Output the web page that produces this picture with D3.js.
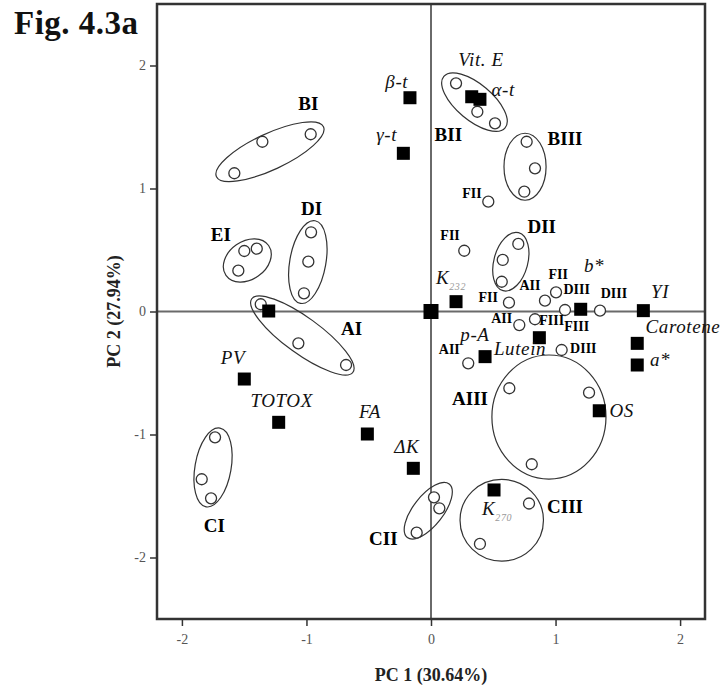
<!DOCTYPE html>
<html>
<head>
<meta charset="utf-8">
<script src="https://cdn.jsdelivr.net/npm/d3@7"></script>
<style>
  html, body { margin: 0; padding: 0; background: #fff; }
  svg { display: block; font-family: "Liberation Serif", "Times New Roman", serif; }
</style>
</head>
<body>
<svg id="chart" width="723" height="693"></svg>
<script>
// ---------- DATA ----------
const xTicks = [-2, -1, 0, 1, 2];
const yTicks = [-2, -1, 0, 1, 2];

// sample scores (open circles)
const sampleGroup = ["BI","BI","BI","EI","EI","EI","DI","DI","DI","AI","AI","AI","CI","CI","CI",
  "CII","CII","CII","BII","BII","BII","BIII","BIII","BIII","DII","DII","DII","AIII","AIII","AIII","CIII","CIII",
  "FII","FII","FII","AII","FII","DIII","DIII","AII","FIII","DIII","AII"];
const sampleX = [-1.579,-1.354,-0.966,-1.499,-1.399,-1.547,-0.963,-0.985,-1.020,-1.367,-1.065,-0.682,-1.734,-1.841,-1.766,
  0.024,0.067,-0.115,0.201,0.372,0.514,0.768,0.835,0.749,0.701,0.576,0.568,0.629,1.269,0.809,0.787,0.393,
  0.460,0.267,0.626,0.915,1.004,1.076,1.357,0.835,0.709,1.049,0.299];
const sampleY = [1.124,1.380,1.441,0.492,0.511,0.332,0.644,0.405,0.148,0.059,-0.259,-0.435,-1.023,-1.364,-1.519,
  -1.511,-1.600,-1.798,1.855,1.624,1.530,1.380,1.164,0.974,0.549,0.419,0.242,-0.624,-0.660,-1.242,-1.561,-1.890,
  0.893,0.494,0.072,0.088,0.156,0.012,0.007,-0.063,-0.110,-0.313,-0.421];

// variable loadings (filled squares)
const varNames = ["β-t","γ-t","Vit. E","α-t","K232","","","PV","TOTOX","FA","ΔK","K270","OS","Lutein","p-A","b*","YI","Carotene","a*"];
const varX = [-0.169,-0.222,0.327,0.393,0.201,0,-1.303,-1.499,-1.223,-0.511,-0.142,0.506,1.351,0.434,0.870,1.202,1.705,1.656,1.656];
const varY = [1.738,1.286,1.746,1.725,0.080,0,0.004,-0.549,-0.901,-0.996,-1.275,-1.451,-0.807,-0.367,-0.213,0.018,0.007,-0.259,-0.435];

// variable label placement (data units)
const varLabelX = [-0.275,-0.356,0.401,0.580,0.040,null,null,-1.590,-1.199,-0.490,-0.195,0.410,1.531,0.715,0.353,1.309,1.839,2.023,1.839];
const varLabelY = [1.868,1.435,2.045,1.801,0.283,null,null,-0.370,-0.720,-0.815,-1.099,-1.600,-0.801,-0.299,-0.191,0.378,0.159,-0.118,-0.394];

// cluster envelopes
const clusterNames = ["BI","EI","DI","AI","CI","CII","BII","BIII","DII","AIII","CIII"];
const clusterCX = [-1.293,-1.475,-0.989,-1.033,-1.750,-0.022,0.349,0.755,0.641,0.947,0.568];
const clusterCY = [1.299,0.415,0.402,-0.195,-1.268,-1.620,1.702,1.177,0.405,-0.858,-1.697];
const clusterRX = [0.474,0.209,0.145,0.502,0.145,0.273,0.321,0.169,0.136,0.458,0.335];
const clusterRY = [0.145,0.153,0.337,0.145,0.321,0.120,0.145,0.269,0.241,0.498,0.328];
const clusterAngle = [-25,-35,10,36,10,-52,40,0,15,0,0];
const clusterLabelX = [-0.985,-1.688,-0.958,-0.637,-1.740,-0.383,0.139,1.076,0.889,0.313,1.076];
const clusterLabelY = [1.693,0.622,0.839,-0.137,-1.736,-1.844,1.435,1.408,0.689,-0.706,-1.587];

// small sample labels
const smallLabelText = ["FII","FII","FII","AII","FII","DIII","DIII","AII","FIII","FIII","DIII","AII"];
const smallLabelX = [0.329,0.153,0.460,0.795,1.022,1.170,1.469,0.568,0.969,1.170,1.223,0.147];
const smallLabelY = [0.963,0.614,0.115,0.215,0.297,0.175,0.150,-0.055,-0.077,-0.124,-0.299,-0.313];

// ---------- CHART ----------
const svg = d3.select("#chart");
const L = 157, R = 705, T = 4, B = 619;
const x = d3.scaleLinear().domain([-2.2, 2.2]).range([L, R]);
const y = d3.scaleLinear().domain([-2.5, 2.5]).range([B, T]);
const unit = x(1) - x(0);

// zero lines
svg.append("line").attr("x1", x(0)).attr("x2", x(0)).attr("y1", T).attr("y2", B)
  .attr("stroke", "#6a6a6a").attr("stroke-width", 2);
svg.append("line").attr("x1", L).attr("x2", R).attr("y1", y(0)).attr("y2", y(0))
  .attr("stroke", "#6a6a6a").attr("stroke-width", 2);

// axes
const xAxis = svg.append("g").attr("transform", `translate(0,${B})`)
  .call(d3.axisBottom(x).tickValues(xTicks).tickSize(7).tickPadding(8).tickFormat(d => String(d)));
const yAxis = svg.append("g").attr("transform", `translate(${L},0)`)
  .call(d3.axisLeft(y).tickValues(yTicks).tickSize(7).tickPadding(4).tickFormat(d => String(d)));
[xAxis, yAxis].forEach(g => {
  g.select(".domain").remove();
  g.selectAll(".tick line").attr("stroke", "#333").attr("stroke-width", 1.5);
  g.selectAll(".tick text").attr("fill", "#555").style("font-size", "14px")
    .style("font-family", "'Liberation Serif', serif");
});

// frame
svg.append("rect").attr("x", L).attr("y", T).attr("width", R - L).attr("height", B - T)
  .attr("fill", "none").attr("stroke", "#333").attr("stroke-width", 2.5);

// ellipses
const clusters = clusterNames.map((n, i) => ({n, cx: clusterCX[i], cy: clusterCY[i], rx: clusterRX[i], ry: clusterRY[i], a: clusterAngle[i], lx: clusterLabelX[i], ly: clusterLabelY[i]}));
svg.append("g").selectAll("ellipse").data(clusters).join("ellipse")
  .attr("cx", d => x(d.cx)).attr("cy", d => y(d.cy))
  .attr("rx", d => d.rx * unit).attr("ry", d => d.ry * unit)
  .attr("transform", d => `rotate(${d.a},${x(d.cx)},${y(d.cy)})`)
  .attr("fill", "none").attr("stroke", "#333").attr("stroke-width", 1.2);

// sample circles
const samples = sampleX.map((v, i) => ({g: sampleGroup[i], x: v, y: sampleY[i]}));
svg.append("g").selectAll("circle").data(samples).join("circle")
  .attr("cx", d => x(d.x)).attr("cy", d => y(d.y)).attr("r", 5.5)
  .attr("fill", "#fff").attr("stroke", "#333").attr("stroke-width", 1.3);

// variable squares
const isOrigin = d => d.x === 0 && d.y === 0;
const vars = varNames.map((n, i) => ({n, x: varX[i], y: varY[i], lx: varLabelX[i], ly: varLabelY[i]}));
svg.append("g").selectAll("rect").data(vars).join("rect")
  .attr("x", d => x(d.x) - (isOrigin(d) ? 7.5 : 6.5))
  .attr("y", d => y(d.y) - (isOrigin(d) ? 7.5 : 6.5))
  .attr("width", d => isOrigin(d) ? 15 : 13)
  .attr("height", d => isOrigin(d) ? 15 : 13)
  .attr("fill", "#000");

// variable labels
const vl = svg.append("g").style("font-style", "italic").style("font-size", "19px")
  .style("letter-spacing", "0.6px").attr("fill", "#111");
vars.filter(d => d.n !== "").forEach(d => {
  const sub = d.n.match(/^K(\d+)$/);
  const t = vl.append("text").attr("x", x(d.lx)).attr("y", y(d.ly)).attr("dominant-baseline", "central");
  if (sub) {
    t.attr("text-anchor", "start");
    t.append("tspan").text("K");
    t.append("tspan").text(sub[1]).attr("dy", 9).attr("fill", "#999").style("font-size", "10px");
  } else {
    t.attr("text-anchor", "middle").text(d.n);
  }
});

// cluster labels
svg.append("g").selectAll("text").data(clusters).join("text")
  .attr("x", d => x(d.lx)).attr("y", d => y(d.ly))
  .attr("text-anchor", "middle").attr("dominant-baseline", "central")
  .style("font-weight", "bold").style("font-size", "19px").attr("fill", "#000")
  .text(d => d.n);

// small labels
const smalls = smallLabelText.map((t, i) => ({t, x: smallLabelX[i], y: smallLabelY[i]}));
svg.append("g").selectAll("text").data(smalls).join("text")
  .attr("x", d => x(d.x)).attr("y", d => y(d.y))
  .attr("text-anchor", "middle").attr("dominant-baseline", "central")
  .style("font-weight", "bold").style("font-size", "14px").attr("fill", "#000")
  .text(d => d.t);

// title and axis titles
svg.append("text").attr("x", 14).attr("y", 34).style("font-weight", "bold").style("font-size", "33px")
  .style("letter-spacing", "0.5px").attr("fill", "#111").text("Fig. 4.3a");
svg.append("text").attr("x", x(0)).attr("y", 681).attr("text-anchor", "middle")
  .style("font-weight", "bold").style("font-size", "18px").attr("fill", "#222").text("PC 1 (30.64%)");
svg.append("text").attr("transform", `translate(120,${y(0)}) rotate(-90)`).attr("text-anchor", "middle")
  .style("font-weight", "bold").style("font-size", "18px").attr("fill", "#222").text("PC 2 (27.94%)");
</script>
</body>
</html>
